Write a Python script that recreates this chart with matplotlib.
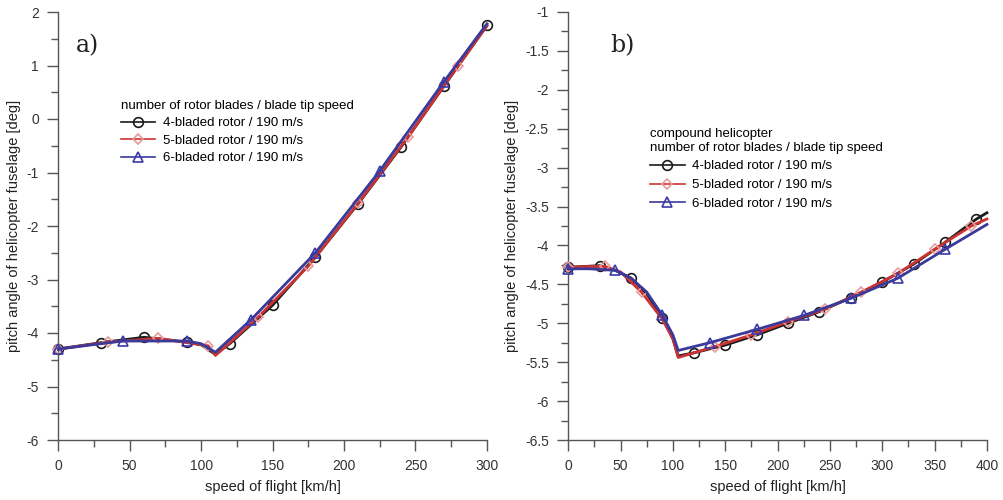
import numpy as np
import matplotlib.pyplot as plt
from matplotlib.ticker import MultipleLocator
from matplotlib.lines import Line2D

plt.rcParams['font.family'] = ['Liberation Sans', 'DejaVu Sans']

# ---- panel a) data ----
a_x_4 = [0, 30, 60, 90, 100, 110, 120, 150, 180, 210, 240, 270, 300]
a_y_4 = [-4.30, -4.18, -4.08, -4.17, -4.22, -4.40, -4.20, -3.48, -2.58, -1.58, -0.52, 0.62, 1.75]
a_m_4 = [0, 1, 2, 3, 6, 7, 8, 9, 10, 11, 12]

a_x_5 = [0, 35, 70, 105, 110, 140, 175, 210, 245, 280, 300]
a_y_5 = [-4.30, -4.17, -4.10, -4.24, -4.42, -3.70, -2.75, -1.57, -0.33, 1.00, 1.74]
a_m_5 = [0, 1, 2, 3, 5, 6, 7, 8, 9]

a_x_6 = [0, 45, 90, 100, 110, 135, 180, 225, 270, 300]
a_y_6 = [-4.30, -4.15, -4.15, -4.20, -4.36, -3.75, -2.50, -0.97, 0.70, 1.78]
a_m_6 = [0, 1, 2, 5, 6, 7, 8]

# ---- panel b) data ----
b_x_4 = [0, 15, 30, 45, 60, 75, 90, 100, 105, 120, 150, 180, 210, 240, 270, 300, 330,
         360, 390, 400]
b_y_4 = [-4.28, -4.27, -4.26, -4.32, -4.42, -4.62, -4.93, -5.20, -5.42, -5.38, -5.28,
         -5.15, -5.00, -4.85, -4.67, -4.47, -4.24, -3.96, -3.66, -3.58]
b_m_4 = [0, 2, 4, 6, 9, 10, 11, 12, 13, 14, 15, 16, 17, 18]

b_x_5 = [0, 20, 35, 50, 70, 90, 100, 105, 140, 175, 210, 245, 280, 315, 350, 385, 400]
b_y_5 = [-4.28, -4.27, -4.27, -4.34, -4.60, -4.95, -5.20, -5.44, -5.30, -5.15, -4.98,
         -4.82, -4.60, -4.36, -4.05, -3.75, -3.66]
b_m_5 = [0, 2, 4, 8, 9, 10, 11, 12, 13, 14, 15]

b_x_6 = [0, 20, 45, 60, 75, 90, 100, 105, 135, 180, 225, 270, 315, 360, 400]
b_y_6 = [-4.30, -4.30, -4.32, -4.42, -4.60, -4.90, -5.15, -5.35, -5.25, -5.08, -4.90,
         -4.68, -4.42, -4.05, -3.73]
b_m_6 = [0, 2, 5, 8, 9, 10, 11, 12, 13]

labels = ['4-bladed rotor / 190 m/s', '5-bladed rotor / 190 m/s', '6-bladed rotor / 190 m/s']
colors = ['#1a1a1a', '#cc3333', '#3a3a9a']
mcolors = ['#1a1a1a', '#e89a9a', '#3a3aa8']
markers = ['o', 'D', '^']
msizes = [7, 5.5, 7.5]

fig = plt.figure(figsize=(10.04, 5.0), dpi=100)
ax1 = fig.add_axes([0.058, 0.12, 0.427, 0.856])
ax2 = fig.add_axes([0.566, 0.12, 0.417, 0.856])


def style(ax, xmax, ymin, ymax, ymaj, ymin_step):
    ax.set_xlim(0, xmax)
    ax.set_ylim(ymin, ymax)
    for s in ['top', 'right']:
        ax.spines[s].set_visible(False)
    for s in ['left', 'bottom']:
        ax.spines[s].set_color('#555555')
        ax.spines[s].set_linewidth(1.0)
    ax.xaxis.set_major_locator(MultipleLocator(50))
    ax.xaxis.set_minor_locator(MultipleLocator(25))
    ax.yaxis.set_major_locator(MultipleLocator(ymaj))
    ax.yaxis.set_minor_locator(MultipleLocator(ymin_step))
    ax.tick_params(which='major', direction='out', length=8, width=1, color='#555555',
                   labelsize=10, labelcolor='#333333', pad=6)
    ax.tick_params(which='minor', direction='out', length=5, width=1, color='#555555')
    ax.set_xlabel('speed of flight [km/h]', fontsize=10.5, color='#222222', labelpad=5)
    ax.set_ylabel('pitch angle of helicopter fuselage [deg]', fontsize=10.5,
                  color='#222222', labelpad=4)
    ax.yaxis.set_major_formatter(plt.FuncFormatter(lambda v, p: ('%g' % v)))


def draw(ax, xs, ys, ms):
    for i in range(3):
        ax.plot(xs[i], ys[i], color=colors[i], lw=2.0, marker=markers[i],
                markersize=msizes[i], markerfacecolor='none',
                markeredgecolor=mcolors[i], markeredgewidth=1.2,
                markevery=ms[i], clip_on=False, zorder=3 + i)


draw(ax1, [a_x_4, a_x_5, a_x_6], [a_y_4, a_y_5, a_y_6], [a_m_4, a_m_5, a_m_6])
draw(ax2, [b_x_4, b_x_5, b_x_6], [b_y_4, b_y_5, b_y_6], [b_m_4, b_m_5, b_m_6])

style(ax1, 300, -6, 2, 1, 0.5)
style(ax2, 400, -6.5, -1, 0.5, 0.25)

handles = [Line2D([], [], color=colors[i], lw=1.2, marker=markers[i],
                  markersize=msizes[i], markerfacecolor='none',
                  markeredgecolor=mcolors[i], markeredgewidth=1.2) for i in range(3)]

leg1 = ax1.legend(handles, labels, title='number of rotor blades / blade tip speed',
                  loc='upper left', bbox_to_anchor=(0.13, 0.81), frameon=False,
                  fontsize=9.5, title_fontsize=9.5, handlelength=2.6,
                  labelspacing=0.4, handletextpad=0.6, borderpad=0, alignment='left')
leg2 = ax2.legend(handles, labels,
                  title='compound helicopter\nnumber of rotor blades / blade tip speed',
                  loc='upper left', bbox_to_anchor=(0.18, 0.745), frameon=False,
                  fontsize=9.5, title_fontsize=9.5, handlelength=2.6,
                  labelspacing=0.5, handletextpad=0.6, borderpad=0, alignment='left')

ax1.text(0.04, 0.905, 'a)', transform=ax1.transAxes, fontsize=17,
         family='DejaVu Serif', color='#222222')
ax2.text(0.1, 0.905, 'b)', transform=ax2.transAxes, fontsize=17,
         family='DejaVu Serif', color='#222222')

fig.savefig('out.png', dpi=100)
